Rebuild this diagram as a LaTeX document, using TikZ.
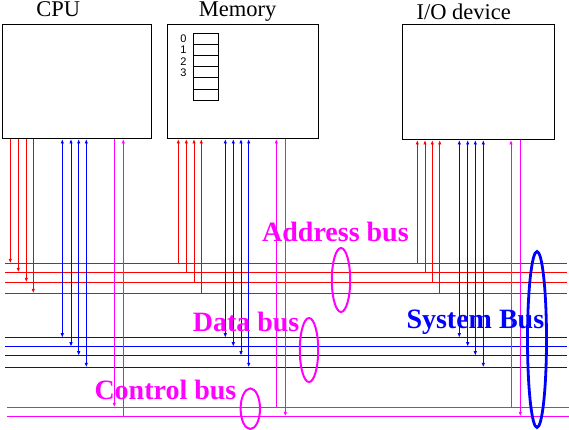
\documentclass[tikz,border=0pt]{standalone}
\usepackage{fontspec}
\setmainfont{Liberation Serif}
\newfontfamily\digitfont{Liberation Sans}
\usetikzlibrary{arrows.meta}
\definecolor{busred}{RGB}{255,0,0}
\definecolor{busblue}{RGB}{0,0,255}
\definecolor{busmag}{RGB}{255,0,255}
\begin{document}
\begin{tikzpicture}[x=1pt,y=-1pt,line width=1pt,
  >={Latex[length=4.5pt,width=3.5pt]},
  unitbox/.style={draw=black,line width=1pt,inner sep=0,anchor=north west,minimum width=#1},
  cellbox/.style={draw=black,line width=1pt,inner sep=0,minimum width=25pt,minimum height=11.17pt},
  cellnum/.style={font=\digitfont\fontsize{11}{11}\selectfont,inner sep=0},
  title/.style={font=\fontsize{22.5}{22.5}\selectfont,anchor=base,inner sep=0},
  buslabel/.style={font=\fontsize{28}{28}\selectfont\bfseries,anchor=base west,inner sep=0},
  addr/.style={busred,line width=1pt},
  data/.style={busblue,line width=1pt},
  ctrl/.style={busmag,line width=1pt},
  ring/.style={line width=2pt}]
\useasboundingbox (0,0) rectangle (569,430);

% units
\node[unitbox=149pt,minimum height=113.5pt] (cpu) at (2,24.5) {};
\node[unitbox=151pt,minimum height=113.5pt] (mem) at (167,24.5) {};
\node[unitbox=152pt,minimum height=114.5pt] (io) at (402,24.5) {};

\node[title] (tcpu) at (58.3,16.7) {CPU};
\node[title] (tmem) at (237.5,16.7) {Memory};
\node[title] (tio) at (463.7,20) {I/O device};

% memory cells
\foreach \i in {0,...,5} {
  \node[cellbox] (m\i) at (205.8,38.9+11.17*\i) {};
}
\foreach \i in {0,...,3} {
  \node[cellnum] (n\i) at ([xshift=-9.3pt]m\i.west) {\i};
}

% buses
\coordinate (R) at (567,0);
\coordinate (A1) at (5,263.3);
\coordinate (A2) at (5,272.3);
\coordinate (A3) at (5,282.3);
\coordinate (A4) at (5,293.3);
\coordinate (D1) at (5,337.7);
\coordinate (D2) at (5,346.7);
\coordinate (D3) at (5,355.7);
\coordinate (D4) at (5,367.3);
\coordinate (C1) at (7.3,407.3);
\coordinate (C2) at (7.3,416.3);
\foreach \b in {A1,A2,A3,A4} \draw[addr] (\b) -- (\b -| R);
\foreach \b in {D1,D2,D3,D4} \draw[data] (\b) -- (\b -| R);
\foreach \b in {C1,C2} \draw[ctrl] (\b) -- (\b -| 569,0);

% CPU connections
\foreach \dx [count=\i] in {8.3,16.3,24.3,31.3} {
  \path (cpu.south west) ++(\dx,0) coordinate (cpuA\i);
  \draw[addr,->] (cpuA\i) -- (cpuA\i |- A\i);
}
\foreach \dx [count=\i] in {60.3,69,76.7,84.3} {
  \path (cpu.south west) ++(\dx,0) coordinate (cpuD\i);
  \draw[data,<->] (cpuD\i) -- (cpuD\i |- D\i);
}
\path (cpu.south west) ++(112.3,0) coordinate (cpuC1);
\path (cpu.south west) ++(121.3,0) coordinate (cpuC2);
\draw[ctrl,->] (cpuC1) -- (cpuC1 |- C1);
\draw[ctrl,<-] (cpuC2) -- (cpuC2 |- C2);

% Memory connections
\foreach \dx [count=\i] in {11.3,19.3,27,34.3} {
  \path (mem.south west) ++(\dx,0) coordinate (memA\i);
  \draw[addr,<-] (memA\i) -- (memA\i |- A\i);
}
\foreach \dx [count=\i] in {58.3,66.3,74,81.7} {
  \path (mem.south west) ++(\dx,0) coordinate (memD\i);
  \draw[data,<->] (memD\i) -- (memD\i |- D\i);
}
\path (mem.south west) ++(109.3,0) coordinate (memC1);
\path (mem.south west) ++(118.3,0) coordinate (memC2);
\draw[ctrl,<-] (memC1) -- (memC1 |- C1);
\draw[ctrl,->] (memC2) -- (memC2 |- C2);

% I/O connections
\foreach \dx [count=\i] in {15.3,23,30.3,37.7} {
  \path (io.south west) ++(\dx,0) coordinate (ioA\i);
  \draw[addr,<-] (ioA\i) -- (ioA\i |- A\i);
}
\foreach \dx [count=\i] in {57.3,65.7,73.3,81.3} {
  \path (io.south west) ++(\dx,0) coordinate (ioD\i);
  \draw[data,<->] (ioD\i) -- (ioD\i |- D\i);
}
\path (io.south west) ++(109,0) coordinate (ioC1);
\path (io.south west) ++(118.3,0) coordinate (ioC2);
\draw[ctrl,<-] (ioC1) -- (ioC1 |- C1);
\draw[ctrl,->] (ioC2) -- (ioC2 |- C2);

% labels and ellipses
\node[buslabel,text=busmag] (la) at (261.7,241.7) {Address bus};
\node[buslabel,text=busmag] (ld) at (192.3,331.7) {Data bus};
\node[buslabel,text=busmag] (lc) at (94,399) {Control bus};
\node[buslabel,text=busblue] (ls) at (406,328.3) {System Bus};

\draw[busmag,ring] (341,280) ellipse [x radius=9.2, y radius=32];
\draw[busmag,ring] (309,350) ellipse [x radius=9.2, y radius=32];
\draw[busmag,ring] (250.3,408.7) ellipse [x radius=9.7, y radius=20.3];
\draw[busblue,line width=2.8pt] (537,339.5) ellipse [x radius=9.5, y radius=88];
\end{tikzpicture}
\end{document}
